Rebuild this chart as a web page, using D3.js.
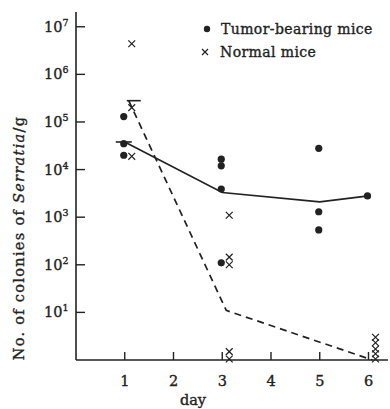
<!DOCTYPE html>
<html>
<head>
<meta charset="utf-8">
<script src="https://cdn.jsdelivr.net/npm/d3@7"></script>
<style>
body { margin: 0; background: #fff; }
text { font-family: "DejaVu Serif", serif; fill: #222; stroke: #222; stroke-width: 0.35; }
</style>
</head>
<body>
<div id="chart"></div>
<script>
// chart values
var tumorDays = [1, 1, 1, 3, 3, 3, 3, 5, 5, 5, 6];
var tumorValues = [130000, 35000, 20000, 16500, 12000, 3900, 110, 28000, 1300, 540, 2800];

var normalDays = [1, 1, 1, 3, 3, 3, 3, 3, 6, 6, 6, 6, 6];
var normalValues = [4400000, 200000, 19000, 1100, 145, 100, 1.5, 1.05, 3.0, 2.3, 1.7, 1.35, 1.05];

var tumorMeanDays = [1, 3, 5, 6];
var tumorMeans = [38000, 3300, 2100, 2800];
var normalMeanDays = [1, 3, 6];
var normalMeans = [280000, 11, 1];

var dayTicks = [1, 2, 3, 4, 5, 6];
var powerTicks = [1, 2, 3, 4, 5, 6, 7];

var width = 390, height = 409;

var svg = d3.select("#chart").append("svg")
	.attr("width", width)
	.attr("height", height);

var x = d3.scaleLinear().domain([0, 6.4]).range([76, 388]);
var y = d3.scaleLog().domain([1, Math.pow(10, 7.31)]).range([360, 12]);

var ink = "#222";

//axes
svg.append("line")
	.attr("x1", x(0)).attr("x2", x(0))
	.attr("y1", y(1)).attr("y2", 12)
	.attr("stroke", ink).attr("stroke-width", 1.6);
svg.append("line")
	.attr("x1", x(0)).attr("x2", x(6.4))
	.attr("y1", y(1)).attr("y2", y(1))
	.attr("stroke", ink).attr("stroke-width", 1.6);

//y ticks point inward
svg.selectAll(".ytick")
	.data(powerTicks)
	.enter()
	.append("line")
	.attr("x1", x(0)).attr("x2", x(0) + 9)
	.attr("y1", function(p){ return y(Math.pow(10, p)); })
	.attr("y2", function(p){ return y(Math.pow(10, p)); })
	.attr("stroke", ink).attr("stroke-width", 1.4);

var ylab = svg.selectAll(".ylab")
	.data(powerTicks)
	.enter()
	.append("text")
	.attr("x", 44)
	.attr("y", function(p){ return y(Math.pow(10, p)) + 5; })
	.attr("font-size", 14.5);
ylab.append("tspan").text("10");
ylab.append("tspan")
	.attr("dy", -6)
	.attr("font-size", 9.5)
	.text(function(p){ return p; });

//x ticks point up
svg.selectAll(".xtick")
	.data(dayTicks)
	.enter()
	.append("line")
	.attr("x1", function(d){ return x(d); })
	.attr("x2", function(d){ return x(d); })
	.attr("y1", y(1)).attr("y2", y(1) - 8)
	.attr("stroke", ink).attr("stroke-width", 1.4);

svg.selectAll(".xlab")
	.data(dayTicks)
	.enter()
	.append("text")
	.attr("x", function(d){ return x(d); })
	.attr("y", 386)
	.attr("text-anchor", "middle")
	.attr("font-size", 14.5)
	.text(function(d){ return d; });

svg.append("text")
	.attr("x", 193).attr("y", 405)
	.attr("text-anchor", "middle")
	.attr("font-size", 14.5)
	.text("day");

//y axis title
var yt = svg.append("text")
	.attr("transform", "translate(24,238) rotate(-90)")
	.attr("text-anchor", "middle")
	.attr("font-size", 14.5)
	.attr("letter-spacing", 1.3);
yt.append("tspan").text("No. of colonies of ");
yt.append("tspan").attr("font-style", "italic").text("Serratia");
yt.append("tspan").text("/g");

//mean lines
var line = d3.line()
	.x(function(d){ return x(d[0]); })
	.y(function(d){ return y(d[1]); });

svg.append("path")
	.datum(d3.zip(tumorMeanDays, tumorMeans))
	.attr("d", line)
	.attr("fill", "none")
	.attr("stroke", ink)
	.attr("stroke-width", 1.7);

svg.append("path")
	.datum(d3.zip(normalMeanDays, normalMeans))
	.attr("d", line)
	.attr("transform", "translate(4,0)")
	.attr("fill", "none")
	.attr("stroke", ink)
	.attr("stroke-width", 1.7)
	.attr("stroke-dasharray", "7,5");

//mean bars on day 1
svg.append("line")
	.attr("x1", x(tumorMeanDays[0]) - 9).attr("x2", x(tumorMeanDays[0]) + 7)
	.attr("y1", y(tumorMeans[0])).attr("y2", y(tumorMeans[0]))
	.attr("stroke", ink).attr("stroke-width", 1.6);
svg.append("line")
	.attr("x1", x(normalMeanDays[0]) + 2).attr("x2", x(normalMeanDays[0]) + 16)
	.attr("y1", y(normalMeans[0])).attr("y2", y(normalMeans[0]))
	.attr("stroke", ink).attr("stroke-width", 1.6);

//tumor-bearing mice: dots
svg.selectAll(".dot")
	.data(d3.zip(tumorDays, tumorValues))
	.enter()
	.append("circle")
	.attr("cx", function(d){ return x(d[0]) - 1; })
	.attr("cy", function(d){ return y(d[1]); })
	.attr("r", 3.6)
	.attr("fill", ink);

//normal mice: crosses
function cross(g, cx, cy, s){
	g.append("path")
		.attr("d", "M" + (cx - s) + "," + (cy - s) + "L" + (cx + s) + "," + (cy + s) +
			"M" + (cx - s) + "," + (cy + s) + "L" + (cx + s) + "," + (cy - s))
		.attr("stroke", ink)
		.attr("stroke-width", 1.2)
		.attr("fill", "none");
}
d3.zip(normalDays, normalValues).forEach(function(d){
	cross(svg, x(d[0]) + 7, y(d[1]), 3.4);
});

//legend
svg.append("circle").attr("cx", 207).attr("cy", 29).attr("r", 3.2).attr("fill", ink);
svg.append("text").attr("x", 221).attr("y", 34).attr("font-size", 14)
	.attr("letter-spacing", 0.4).text("Tumor-bearing mice");
cross(svg, 205, 52, 3);
svg.append("text").attr("x", 220).attr("y", 57).attr("font-size", 14)
	.attr("letter-spacing", 0.4).text("Normal mice");
</script>
</body>
</html>
